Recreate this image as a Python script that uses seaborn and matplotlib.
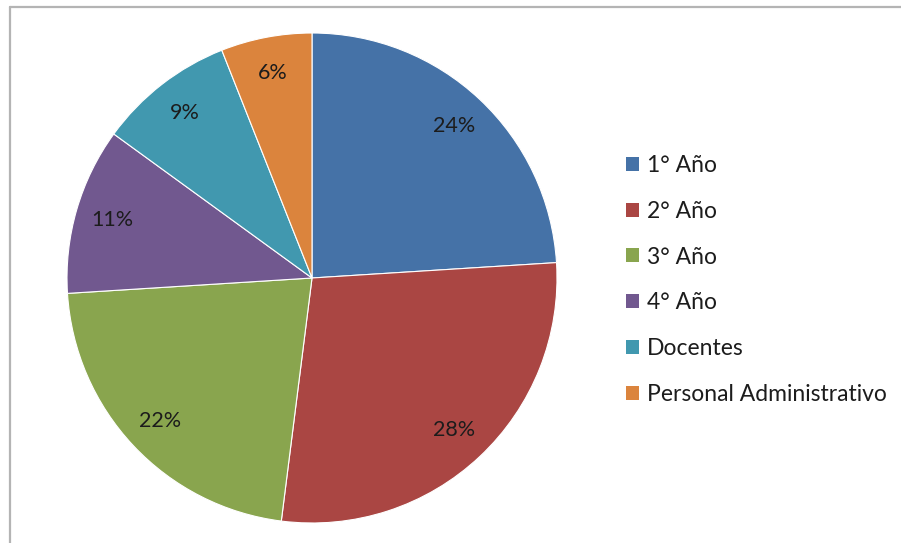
import matplotlib
matplotlib.use("Agg")
import matplotlib.pyplot as plt
from matplotlib.patches import Patch
from matplotlib.lines import Line2D
import seaborn as sns

categories = ["1° Año", "2° Año", "3° Año", "4° Año", "Docentes", "Personal Administrativo"]
shares = [24, 28, 22, 11, 9, 6]
colors = ["#4572A7", "#AA4643", "#89A54E", "#71588F", "#4198AF", "#DB843D"]

sns.set_theme(style="white")
plt.rcParams["font.family"] = ["Lato", "DejaVu Sans"]

W, H = 901, 543
fig = plt.figure(figsize=(W / 100, H / 100), dpi=100)
fig.patch.set_facecolor("white")

# pie centred at (312, 278) px with radius 245 px
cx, cy, r = 312, 278, 245
ax = fig.add_axes([(cx - r) / W, (H - cy - r) / H, 2 * r / W, 2 * r / H])
wedges, texts, autotexts = ax.pie(
    shares,
    colors=colors,
    startangle=90,
    counterclock=False,
    autopct=lambda p: f"{p:.0f}%",
    pctdistance=0.85,
    wedgeprops=dict(edgecolor="white", linewidth=0.8),
    textprops=dict(fontsize=15.5, color="#1c1c1c"),
)
ax.set_xlim(-1, 1)
ax.set_ylim(-1, 1)
ax.set_aspect("equal")
ax.axis("off")

# legend on the right
handles = [Patch(facecolor=c, edgecolor="none") for c in colors]
fig.legend(
    handles, categories,
    loc="upper left",
    bbox_to_anchor=(626 / W, 1 - 155 / H),
    frameon=False,
    fontsize=16.5,
    handlelength=0.55,
    handleheight=0.55,
    handletextpad=0.35,
    labelspacing=1.08,
    borderpad=0,
    borderaxespad=0,
    labelcolor="#1c1c1c",
)

# chart area border (top and left edges)
line_kw = dict(color="#b4b4b4", linewidth=1.6, transform=fig.transFigure)
fig.add_artist(Line2D([10 / W, 1], [1 - 7 / H, 1 - 7 / H], **line_kw))
fig.add_artist(Line2D([10 / W, 10 / W], [0, 1 - 7 / H], **line_kw))

fig.savefig("out.png", dpi=100, facecolor="white")
